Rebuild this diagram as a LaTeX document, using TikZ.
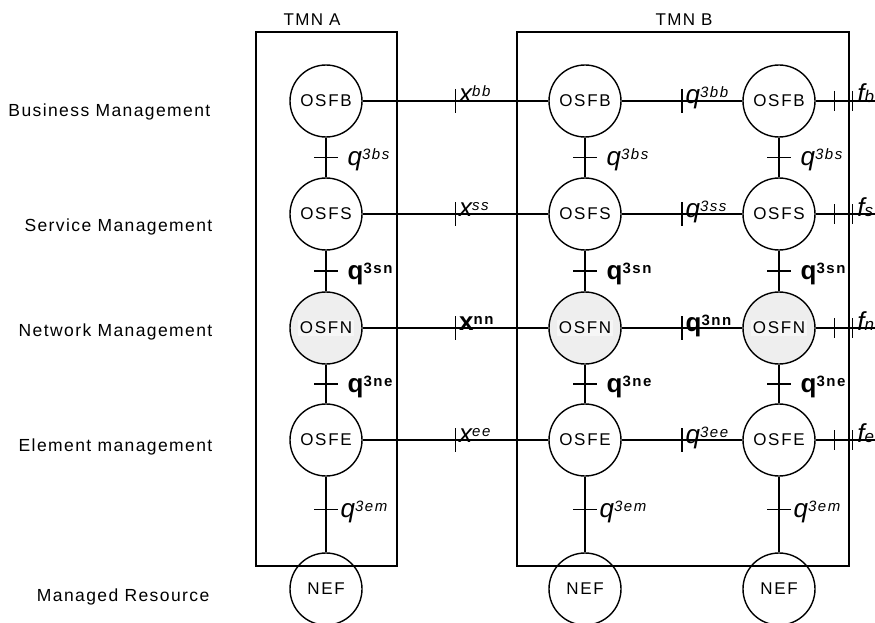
\documentclass[tikz,border=0pt]{standalone}
\usepackage{fontspec}
\setmainfont{Liberation Sans}
\newfontfamily\spaced[LetterSpace=8]{Liberation Sans}
\newfontfamily\osfspaced[LetterSpace=10]{Liberation Sans}
\newfontfamily\supspaced[LetterSpace=10]{Liberation Sans}
\usepackage{tikz}
\usetikzlibrary{positioning,calc}
\definecolor{netgray}{RGB}{238,238,238}
\definecolor{netbox}{RGB}{246,246,246}

\newcommand{\itl}[2]{{\fontsize{26}{26}\selectfont\itshape #1}\raisebox{6pt}{\supspaced\fontsize{15}{15}\selectfont\itshape #2}}
\newcommand{\bfl}[2]{{\fontsize{26}{26}\selectfont\bfseries #1}\raisebox{6pt}{\supspaced\fontsize{15}{15}\selectfont\bfseries #2}}
\newcommand{\ffl}[1]{{\fontsize{26}{26}\selectfont\itshape f}{\fontsize{17}{17}\selectfont\itshape #1}}
\newcommand{\netname}{{\setlength\fboxsep{2pt}\colorbox{netbox}{OSFN}}}

\tikzset{
  osf/.style={circle,draw,minimum size=72pt,inner sep=0pt,fill=white,
    font=\osfspaced\fontsize{17}{17}\selectfont},
  osfn/.style={osf,fill=netgray},
  nef/.style={osf,fill=none},
  tmn/.style={draw},
  layer/.style={anchor=east,inner sep=0pt,font=\spaced\fontsize{17.5}{17.5}\selectfont},
  tmnname/.style={inner sep=0pt,font=\spaced\fontsize{17}{17}\selectfont},
  ilab/.style={anchor=base west,inner sep=0pt},
}

\begin{document}
\begin{tikzpicture}[x=1pt,y=-1pt,line width=1.4pt]
  \useasboundingbox (0,0) rectangle (875,623);

  % layer names
  \node[layer] (lB) at (211,112) {Business Management};
  \node[layer] (lS) at (213,227) {Service Management};
  \node[layer] (lN) at (213,332) {Network Management};
  \node[layer] (lE) at (213,447) {Element management};
  \node[layer] (lM) at (210,597) {Managed Resource};

  % the two TMNs
  \draw[tmn] (256,32) rectangle (397,566);
  \node[tmnname] (tA) at (312,20) {TMN A};
  \draw[tmn] (517,32) rectangle (849,566);
  \node[tmnname] (tB) at (684,20) {TMN B};

  % TMN A
  \node[osf] (aB) at (326,101) {OSFB};
  \node[osf] (aS) at (326,214) {OSFS};
  \node[osfn] (aN) at (326,328) {\netname};
  \node[osf] (aE) at (326,440) {OSFE};
  \node[nef] (aM) at (326,589) {NEF};

  % TMN B, first column
  \node[osf] (bB) at (585,101) {OSFB};
  \node[osf] (bS) at (585,214) {OSFS};
  \node[osfn] (bN) at (585,328) {\netname};
  \node[osf] (bE) at (585,440) {OSFE};
  \node[nef] (bM) at (585,589) {NEF};

  % TMN B, second column
  \node[osf] (cB) at (779,101) {OSFB};
  \node[osf] (cS) at (779,214) {OSFS};
  \node[osfn] (cN) at (779,328) {\netname};
  \node[osf] (cE) at (779,440) {OSFE};
  \node[nef] (cM) at (779,589) {NEF};

  % x reference points between A and B
  \draw (aB) -- coordinate (xB) (bB);
  \draw ([yshift=12pt]xB) -- ([yshift=-12pt]xB);
  \node[ilab] (xBl) at ([xshift=3pt,yshift=-2pt]xB) {\itl{x}{bb}};
  \draw (aS) -- coordinate (xS) (bS);
  \draw ([yshift=12pt]xS) -- ([yshift=-12pt]xS);
  \node[ilab] (xSl) at ([xshift=3pt,yshift=-2pt]xS) {\itl{x}{ss}};
  \draw (aN) -- coordinate (xN) (bN);
  \draw ([yshift=12pt]xN) -- ([yshift=-12pt]xN);
  \node[ilab] (xNl) at ([xshift=3pt,yshift=-2pt]xN) {\bfl{x}{nn}};
  \draw (aE) -- coordinate (xE) (bE);
  \draw ([yshift=12pt]xE) -- ([yshift=-12pt]xE);
  \node[ilab] (xEl) at ([xshift=3pt,yshift=-2pt]xE) {\itl{x}{ee}};

  % q3 reference points inside B
  \draw (bB) -- coordinate (qB) (cB);
  \draw ([yshift=12pt]qB) -- ([yshift=-12pt]qB);
  \node[ilab] (qBl) at ([xshift=3pt,yshift=-3pt]qB) {\itl{q}{3bb}};
  \draw (bS) -- coordinate (qS) (cS);
  \draw ([yshift=12pt]qS) -- ([yshift=-12pt]qS);
  \node[ilab] (qSl) at ([xshift=3pt,yshift=-3pt]qS) {\itl{q}{3ss}};
  \draw (bN) -- coordinate (qN) (cN);
  \draw ([yshift=12pt]qN) -- ([yshift=-12pt]qN);
  \node[ilab] (qNl) at ([xshift=3pt,yshift=-3pt]qN) {\bfl{q}{3nn}};
  \draw (bE) -- coordinate (qE) (cE);
  \draw ([yshift=12pt]qE) -- ([yshift=-12pt]qE);
  \node[ilab] (qEl) at ([xshift=3pt,yshift=-3pt]qE) {\itl{q}{3ee}};

  % f reference points leaving B
  \coordinate (fB) at (875,101);
  \coordinate (fS) at (875,214);
  \coordinate (fN) at (875,328);
  \coordinate (fE) at (875,440);
  \draw (cB) -- (fB);
  \draw ([xshift=19pt]cB.east) ++(0,-10) -- ++(0,20);
  \draw ([xshift=37pt]cB.east) ++(0,-10) -- ++(0,20);
  \node[ilab] (fBl) at ([xshift=41pt,yshift=-2pt]cB.east) {\ffl{b}};
  \draw (cS) -- (fS);
  \draw ([xshift=19pt]cS.east) ++(0,-10) -- ++(0,20);
  \draw ([xshift=37pt]cS.east) ++(0,-10) -- ++(0,20);
  \node[ilab] (fSl) at ([xshift=41pt,yshift=-2pt]cS.east) {\ffl{s}};
  \draw (cN) -- (fN);
  \draw ([xshift=19pt]cN.east) ++(0,-10) -- ++(0,20);
  \draw ([xshift=37pt]cN.east) ++(0,-10) -- ++(0,20);
  \node[ilab] (fNl) at ([xshift=41pt,yshift=-2pt]cN.east) {\ffl{n}};
  \draw (cE) -- (fE);
  \draw ([xshift=19pt]cE.east) ++(0,-10) -- ++(0,20);
  \draw ([xshift=37pt]cE.east) ++(0,-10) -- ++(0,20);
  \node[ilab] (fEl) at ([xshift=41pt,yshift=-2pt]cE.east) {\ffl{e}};

  % q3 reference points between layers
  \foreach \col in {a,b,c} {
    \draw (\col B) -- coordinate (\col bs) (\col S);
    \draw ([xshift=-12pt]\col bs) -- ([xshift=12pt]\col bs);
    \node[ilab] at ([xshift=21pt,yshift=-8pt]\col bs) {\itl{q}{3bs}};
    \draw (\col S) -- coordinate (\col sn) (\col N);
    \draw ([xshift=-12pt]\col sn) -- ([xshift=12pt]\col sn);
    \node[ilab] at ([xshift=21pt,yshift=-8pt]\col sn) {\bfl{q}{3sn}};
    \draw (\col N) -- coordinate (\col ne) (\col E);
    \draw ([xshift=-12pt]\col ne) -- ([xshift=12pt]\col ne);
    \node[ilab] at ([xshift=21pt,yshift=-8pt]\col ne) {\bfl{q}{3ne}};
    \draw (\col E) -- coordinate[pos=0.43] (\col em) (\col M);
    \draw ([xshift=-12pt]\col em) -- ([xshift=12pt]\col em);
    \node[ilab] at ([xshift=14pt,yshift=-8pt]\col em) {\itl{q}{3em}};
  }
\end{tikzpicture}
\end{document}
